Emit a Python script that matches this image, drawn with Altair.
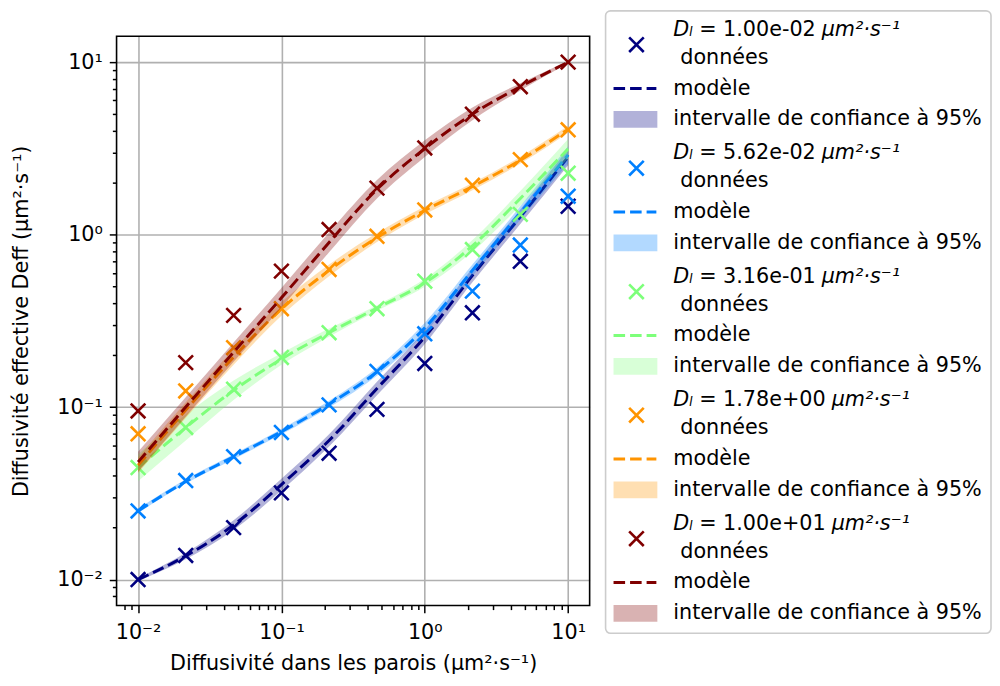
import altair as alt
import pandas as pd

# ---------------- data ----------------
X_WALL = [0.01, 0.0215, 0.0464, 0.1, 0.215, 0.464, 1.0, 2.15, 4.64, 10.0]

DL_LABELS = ["1.00e-02", "5.62e-02", "3.16e-01", "1.78e+00", "1.00e+01"]
COLORS = ["#000080", "#0080ff", "#7dff7a", "#ff9400", "#800000"]

DATA_NAVY = [0.0100, 0.0138, 0.0200, 0.0318, 0.054, 0.097, 0.179, 0.352, 0.70, 1.46]
DATA_BLUE = [0.0250, 0.0375, 0.0516, 0.0713, 0.103, 0.161, 0.266, 0.47, 0.87, 1.67]
DATA_GREEN = [0.0446, 0.0762, 0.127, 0.194, 0.270, 0.372, 0.537, 0.819, 1.31, 2.27]
DATA_ORANGE = [0.070, 0.124, 0.221, 0.372, 0.628, 0.977, 1.39, 1.93, 2.72, 4.05]
DATA_RED = [0.095, 0.181, 0.340, 0.614, 1.07, 1.86, 3.18, 4.99, 7.2, 10.0]

MODEL_NAVY = [0.0100, 0.0137, 0.0207, 0.0355, 0.064, 0.128, 0.255, 0.58, 1.27, 2.82]
MODEL_BLUE = [0.0250, 0.0370, 0.0515, 0.0720, 0.104, 0.160, 0.288, 0.62, 1.34, 2.90]
MODEL_GREEN = [0.0445, 0.0760, 0.125, 0.190, 0.270, 0.375, 0.525, 0.86, 1.62, 3.14]
MODEL_ORANGE = [0.046, 0.096, 0.195, 0.370, 0.620, 0.960, 1.38, 1.90, 2.70, 4.08]
MODEL_RED = [0.048, 0.100, 0.208, 0.430, 0.90, 1.83, 3.15, 5.00, 7.20, 10.0]

LOW_NAVY = [0.0098, 0.0131, 0.0194, 0.0328, 0.059, 0.117, 0.232, 0.53, 1.15, 2.52]
HIGH_NAVY = [0.0102, 0.0143, 0.0221, 0.0384, 0.0695, 0.140, 0.280, 0.64, 1.40, 3.15]
LOW_BLUE = [0.0243, 0.0360, 0.0498, 0.0695, 0.0995, 0.152, 0.270, 0.575, 1.22, 2.58]
HIGH_BLUE = [0.0257, 0.0381, 0.0533, 0.0746, 0.1087, 0.169, 0.308, 0.67, 1.46, 3.25]
LOW_GREEN = [0.0372, 0.0640, 0.110, 0.176, 0.256, 0.361, 0.498, 0.796, 1.47, 2.75]
HIGH_GREEN = [0.0533, 0.0905, 0.1425, 0.205, 0.285, 0.390, 0.554, 0.93, 1.79, 3.58]
LOW_ORANGE = [0.0415, 0.0865, 0.176, 0.338, 0.574, 0.905, 1.31, 1.81, 2.58, 3.90]
HIGH_ORANGE = [0.0510, 0.1065, 0.216, 0.405, 0.670, 1.02, 1.455, 1.99, 2.83, 4.27]
LOW_RED = [0.042, 0.088, 0.183, 0.378, 0.79, 1.62, 2.82, 4.60, 6.85, 9.85]
HIGH_RED = [0.055, 0.114, 0.237, 0.490, 1.03, 2.07, 3.52, 5.45, 7.55, 10.15]

DATA = [DATA_NAVY, DATA_BLUE, DATA_GREEN, DATA_ORANGE, DATA_RED]
MODEL = [MODEL_NAVY, MODEL_BLUE, MODEL_GREEN, MODEL_ORANGE, MODEL_RED]
LOW = [LOW_NAVY, LOW_BLUE, LOW_GREEN, LOW_ORANGE, LOW_RED]
HIGH = [HIGH_NAVY, HIGH_BLUE, HIGH_GREEN, HIGH_ORANGE, HIGH_RED]

X_TITLE = "Diffusivité dans les parois (μm²·s⁻¹)"
Y_TITLE = "Diffusivité effective Deff (μm²·s⁻¹)"
TXT_DATA = "données"
TXT_MODEL = "modèle"
TXT_BAND = "intervalle de confiance à 95%"
UNIT = "μm²·s⁻¹"

# ---------------- layout / style ----------------
FONT = "DejaVu Sans"
FS = 20.8
W, H = 475, 571.5
XPATH = "M-1,-1L1,1M-1,1L1,-1"
MSIZE = 215

rows = []
for i, lab in enumerate(DL_LABELS):
    for j, xv in enumerate(X_WALL):
        rows.append(dict(idx=i, x=xv, y=DATA[i][j], m=MODEL[i][j],
                         lo=LOW[i][j], hi=HIGH[i][j]))
df = pd.DataFrame(rows)

TICKS = []
for e in range(-3, 2):
    for k in range(1, 10):
        v = round(k * 10 ** e, 10)
        if 10 ** -2.15 <= v <= 10 ** 1.15:
            TICKS.append(v)

MAJOR = "abs(log(datum.value)/LN10 - round(log(datum.value)/LN10)) < 1e-6"
EXP = "round(log(datum.value)/LN10)"
LABEL_EXPR = (f"({MAJOR}) ? ({EXP} == -2 ? '10⁻²' : {EXP} == -1 ? '10⁻¹' : "
              f"{EXP} == 0 ? '10⁰' : '10¹') : ''")


def log_axis(title, tpad, lpad):
    return alt.Axis(
        values=TICKS, labelExpr=LABEL_EXPR, title=title,
        tickSize={"condition": {"test": MAJOR, "value": 7.3}, "value": 4.2},
        gridOpacity={"condition": {"test": MAJOR, "value": 1}, "value": 0},
        grid=True, gridColor="#b0b0b0", gridWidth=1.6,
        tickColor="black", tickWidth=1.5, domain=False,
        labelFont=FONT, labelFontSize=FS, labelColor="black",
        labelPadding=lpad, labelOverlap=False, labelFlush=False,
        titleFont=FONT, titleFontSize=FS, titleFontWeight="normal",
        titleColor="black", titlePadding=tpad,
    )


XS = alt.Scale(type="log", domain=[10 ** -2.15, 10 ** 1.15], nice=False)
YS = alt.Scale(type="log", domain=[10 ** -2.15, 10 ** 1.15], nice=False)
XA = log_axis(X_TITLE, 11, 10)
YA = log_axis(Y_TITLE, 25, 7)

plot_layers = []
for i in range(len(DL_LABELS)):
    base = alt.Chart(df).transform_filter(alt.datum.idx == i)
    pts = base.mark_point(shape=XPATH, filled=False, size=MSIZE, strokeWidth=2.6,
                          color=COLORS[i], opacity=1).encode(
        x=alt.X("x:Q", scale=XS, axis=XA), y=alt.Y("y:Q", scale=YS, axis=YA))
    line = base.mark_line(color=COLORS[i], strokeDash=[11.6, 5], strokeWidth=3,
                          interpolate="monotone").encode(
        x=alt.X("x:Q", scale=XS, axis=XA), y=alt.Y("m:Q", scale=YS, axis=YA))
    band = base.mark_area(color=COLORS[i], opacity=0.3, interpolate="monotone").encode(
        x=alt.X("x:Q", scale=XS, axis=XA), y=alt.Y("lo:Q", scale=YS, axis=YA),
        y2="hi:Q")
    plot_layers += [pts, line, band]

plot = alt.layer(*plot_layers)

# ---------------- custom legend (positions relative to the plot area) ----------------
LEG_X0, LEG_X1, LEG_Y0, LEG_Y1 = 491, 878, -25.5, 599.5
ENTRY0, STEP = 8.5, 124
SYM_X, HANDLE_X0, HANDLE_X1, TEXT_X = 522, 499, 542, 559

sym_rows, line_rows, rect_rows, txt_norm, txt_ital = [], [], [], [], []
for i, lab in enumerate(DL_LABELS):
    sy = ENTRY0 + STEP * i
    sym_rows.append(dict(lx=SYM_X, ly=sy, color=COLORS[i]))
    line_rows.append(dict(lx=HANDLE_X0, lx2=HANDLE_X1, ly=sy + 44, color=COLORS[i]))
    rect_rows.append(dict(lx=HANDLE_X0, lx2=HANDLE_X1 + 1, ly=sy + 75 - 8.5,
                          ly2=sy + 75 + 8.5, color=COLORS[i]))
    txt_ital.append(dict(lx=TEXT_X, ly=sy - 15, t="Dₗ"))
    txt_norm.append(dict(lx=TEXT_X + 26, ly=sy - 15, t="= " + lab))
    txt_ital.append(dict(lx=TEXT_X + 149 + (10 if "+" in lab else 0), ly=sy - 15, t=UNIT))
    txt_norm.append(dict(lx=TEXT_X + 7, ly=sy + 13, t=TXT_DATA))
    txt_norm.append(dict(lx=TEXT_X, ly=sy + 44, t=TXT_MODEL))
    txt_norm.append(dict(lx=TEXT_X, ly=sy + 75, t=TXT_BAND))

LX = alt.Scale(domain=[0, W], nice=False, zero=False)
LY = alt.Scale(domain=[0, H], nice=False, zero=False, reverse=True)


def lx(f="lx"):
    return alt.X(f"{f}:Q", scale=LX, axis=None)


def ly(f="ly"):
    return alt.Y(f"{f}:Q", scale=LY, axis=None)


frame = alt.Chart(pd.DataFrame([dict(lx=LEG_X0, lx2=LEG_X1, ly=LEG_Y0, ly2=LEG_Y1)])).mark_rect(
    fill="white", fillOpacity=0.8, stroke="#cccccc", strokeWidth=1.6, cornerRadius=5
).encode(x=lx(), x2="lx2:Q", y=ly(), y2="ly2:Q")

spines = alt.Chart(pd.DataFrame([dict(lx=0, lx2=W, ly=0, ly2=H)])).mark_rect(
    fill=None, fillOpacity=0, stroke="black", strokeWidth=1.6
).encode(x=lx(), x2="lx2:Q", y=ly(), y2="ly2:Q")

leg_sym = alt.Chart(pd.DataFrame(sym_rows)).mark_point(
    shape=XPATH, filled=False, size=MSIZE, strokeWidth=2.6, opacity=1
).encode(x=lx(), y=ly(), color=alt.Color("color:N", scale=None))

leg_line = alt.Chart(pd.DataFrame(line_rows)).mark_rule(
    strokeDash=[11.6, 5], strokeWidth=3
).encode(x=lx(), x2="lx2:Q", y=ly(), color=alt.Color("color:N", scale=None))

leg_rect = alt.Chart(pd.DataFrame(rect_rows)).mark_rect(opacity=0.3).encode(
    x=lx(), x2="lx2:Q", y=ly(), y2="ly2:Q", color=alt.Color("color:N", scale=None))

leg_tn = alt.Chart(pd.DataFrame(txt_norm)).mark_text(
    align="left", baseline="middle", font=FONT, fontSize=FS, color="black"
).encode(x=lx(), y=ly(), text="t:N")

leg_ti = alt.Chart(pd.DataFrame(txt_ital)).mark_text(
    align="left", baseline="middle", font=FONT, fontSize=FS, fontStyle="italic", color="black"
).encode(x=lx(), y=ly(), text="t:N")

legend = alt.layer(spines, frame, leg_sym, leg_line, leg_rect, leg_tn, leg_ti)

chart = alt.layer(plot, legend).resolve_scale(x="independent", y="independent").properties(
    width=W, height=H, padding={"left": 2, "top": 0, "right": 0, "bottom": 0},
    background="white"
).configure_view(stroke=None)

chart.save("out.html", embed_options={"renderer": "svg", "actions": False})
